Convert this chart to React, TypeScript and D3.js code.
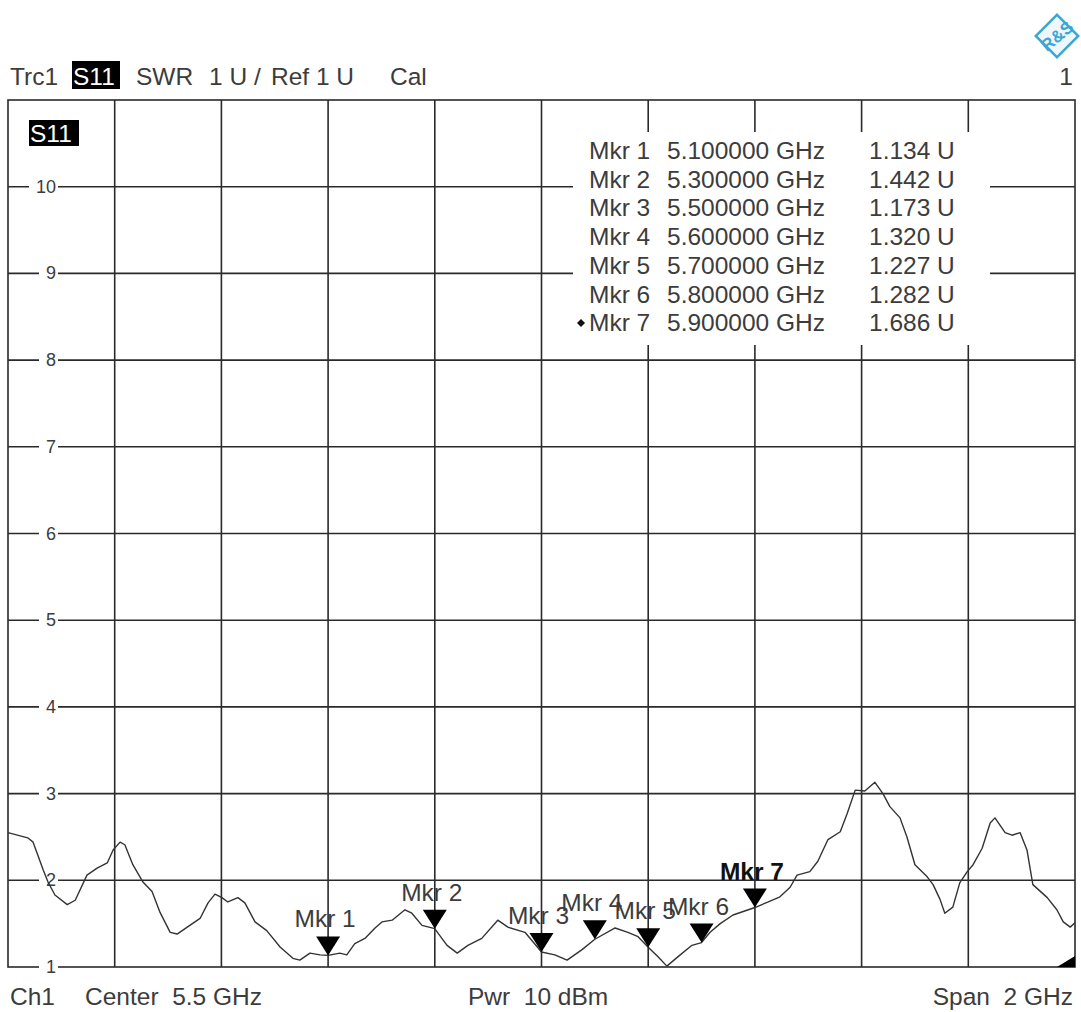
import React from "react";
import * as d3 from "d3";

const freqGHz = [4.500,4.537,4.547,4.556,4.566,4.575,4.588,4.611,4.626,4.648,4.667,4.686,4.697,4.710,4.719,4.734,4.753,4.770,4.785,4.804,4.817,4.836,4.860,4.875,4.888,4.901,4.912,4.931,4.944,4.963,4.985,5.010,5.034,5.047,5.066,5.085,5.100,5.122,5.135,5.150,5.169,5.188,5.201,5.220,5.244,5.257,5.276,5.300,5.306,5.323,5.342,5.362,5.388,5.418,5.437,5.469,5.500,5.525,5.548,5.576,5.600,5.638,5.662,5.681,5.700,5.718,5.735,5.756,5.782,5.800,5.816,5.835,5.859,5.900,5.925,5.947,5.966,5.979,6.003,6.018,6.037,6.060,6.073,6.088,6.106,6.125,6.140,6.153,6.172,6.185,6.200,6.223,6.234,6.247,6.256,6.271,6.284,6.298,6.309,6.326,6.341,6.350,6.369,6.382,6.397,6.410,6.421,6.448,6.466,6.478,6.491,6.500];
const swrValues = [2.55,2.49,2.44,2.29,2.12,1.98,1.83,1.72,1.77,2.06,2.14,2.20,2.35,2.44,2.41,2.18,1.98,1.87,1.63,1.40,1.38,1.46,1.56,1.74,1.84,1.80,1.75,1.80,1.74,1.52,1.42,1.23,1.10,1.08,1.16,1.14,1.134,1.16,1.14,1.27,1.33,1.45,1.52,1.54,1.66,1.62,1.48,1.442,1.39,1.25,1.16,1.25,1.33,1.54,1.46,1.40,1.173,1.14,1.08,1.20,1.32,1.45,1.40,1.35,1.227,1.12,1.01,1.12,1.25,1.282,1.40,1.50,1.60,1.686,1.75,1.81,1.92,2.06,2.10,2.22,2.47,2.56,2.77,3.04,3.03,3.13,3.00,2.85,2.72,2.50,2.18,2.04,1.95,1.78,1.62,1.69,1.97,2.10,2.18,2.37,2.66,2.72,2.55,2.52,2.55,2.35,1.95,1.80,1.66,1.52,1.46,1.51];

const markerNames = ["Mkr 1","Mkr 2","Mkr 3","Mkr 4","Mkr 5","Mkr 6","Mkr 7"];
const markerFreqs = [5.1,5.3,5.5,5.6,5.7,5.8,5.9];
const markerVals = [1.134,1.442,1.173,1.320,1.227,1.282,1.686];
const markerFreqText = ["5.100000 GHz","5.300000 GHz","5.500000 GHz","5.600000 GHz","5.700000 GHz","5.800000 GHz","5.900000 GHz"];
const markerValText = ["1.134 U","1.442 U","1.173 U","1.320 U","1.227 U","1.282 U","1.686 U"];

const yTicks = [1,2,3,4,5,6,7,8,9,10];
const xDivisions = [4.7,4.9,5.1,5.3,5.5,5.7,5.9,6.1,6.3];

const FONT = "'Liberation Sans', Arial, sans-serif";
const TXT = "#3c3c3c";
const GRID = "#2a2a2a";
const FS = 24.5;

export default function App() {
  const L = 8, R = 1075, T = 100, B = 967;
  const x = d3.scaleLinear().domain([4.5, 6.5]).range([L, R]);
  const y = d3.scaleLinear().domain([1, 11]).range([B, T]);
  const pts = freqGHz.map((f, i) => [f, swrValues[i]] as [number, number]);
  const line = d3.line<[number, number]>().x(d => x(d[0])).y(d => y(d[1]));
  const pre = { whiteSpace: "pre" } as React.CSSProperties;

  return (
    <svg width={1081} height={1012} style={{ position: "absolute", left: 0, top: 0, background: "#fff" }} fontFamily={FONT}>
      <rect x={0} y={0} width={1081} height={1012} fill="#fff" />
      {/* R&S logo */}
      <g transform="translate(1057,36)">
        <rect x={-15} y={-15} width={30} height={30} transform="rotate(45)" fill="#eef8fc" stroke="#3aa6d4" strokeWidth={2.5} />
        <text x={0} y={6} textAnchor="middle" fontSize={17} fontWeight="bold" fill="#3aa6d4" transform="rotate(-40)">R&amp;S</text>
      </g>
      {/* header */}
      <g fontSize={FS} fill={TXT}>
        <text x={10} y={85}>Trc1</text>
        <rect x={72} y={61} width={48} height={28} fill="#000" />
        <text x={73} y={85} fill="#fff">S11</text>
        <text x={136} y={85}>SWR</text>
        <text x={209} y={85}>1 U /</text>
        <text x={271} y={85}>Ref 1 U</text>
        <text x={390} y={85}>Cal</text>
        <text x={1073} y={85} textAnchor="end">1</text>
      </g>
      {/* grid */}
      <g stroke={GRID} strokeWidth={1.6}>
        {xDivisions.map(f => (
          <line key={f} x1={x(f)} x2={x(f)} y1={T} y2={B} />
        ))}
        {yTicks.slice(1).map(v => (
          <line key={v} x1={L} x2={R} y1={y(v)} y2={y(v)} />
        ))}
        <rect x={L} y={T} width={R - L} height={B - T} fill="none" />
      </g>
      {/* y tick labels */}
      <g fontSize={18} fill={TXT}>
        {yTicks.map(v => {
          const w = String(v).length * 10;
          return (
            <g key={v}>
              <rect x={56 - w - 7} y={y(v) - 3} width={w + 9} height={6} fill="#fff" />
              <text x={56} y={y(v) + 6} textAnchor="end">{v}</text>
            </g>
          );
        })}
      </g>
      {/* S11 label in plot */}
      <rect x={29} y={120} width={50} height={26} fill="#000" />
      <text x={30} y={142} fontSize={FS} fill="#fff">S11</text>
      {/* marker table */}
      <rect x={573} y={132} width={417} height={213} fill="#fff" />
      <g fontSize={FS} fill={TXT}>
        {markerNames.map((m, i) => (
          <g key={m}>
            <text x={589} y={159 + i * 28.7}>{m}</text>
            <text x={667} y={159 + i * 28.7}>{markerFreqText[i]}</text>
            <text x={869} y={159 + i * 28.7}>{markerValText[i]}</text>
          </g>
        ))}
        <path d={`M 577 323 l 4 -4 l 4 4 l -4 4 z`} fill="#111" />
      </g>
      {/* trace */}
      <path d={line(pts) || ""} fill="none" stroke="#333" strokeWidth={1.4} strokeLinejoin="round" />
      {/* markers */}
      {markerNames.map((m, i) => {
        const mx = x(markerFreqs[i]);
        const my = y(markerVals[i]);
        const bold = i === markerNames.length - 1;
        return (
          <g key={m}>
            <path d={`M ${mx} ${my} L ${mx - 12} ${my - 19} L ${mx + 12} ${my - 19} Z`} fill="#000" />
            <text x={mx - 3} y={my - 28} textAnchor="middle" fontSize={bold ? 24.5 : FS} fontWeight={bold ? "bold" : "normal"} fill={bold ? "#111" : TXT}>{m}</text>
          </g>
        );
      })}
      {/* out-of-range indicator */}
      <path d={`M ${R - 18} ${B} L ${R} ${B} L ${R} ${B - 11} Z`} fill="#000" />
      {/* footer */}
      <g fontSize={FS} fill={TXT}>
        <text x={10} y={1005}>Ch1</text>
        <text x={85} y={1005} style={pre}>Center  5.5 GHz</text>
        <text x={468} y={1005} style={pre}>Pwr  10 dBm</text>
        <text x={1073} y={1005} textAnchor="end" style={pre}>Span  2 GHz</text>
      </g>
    </svg>
  );
}
